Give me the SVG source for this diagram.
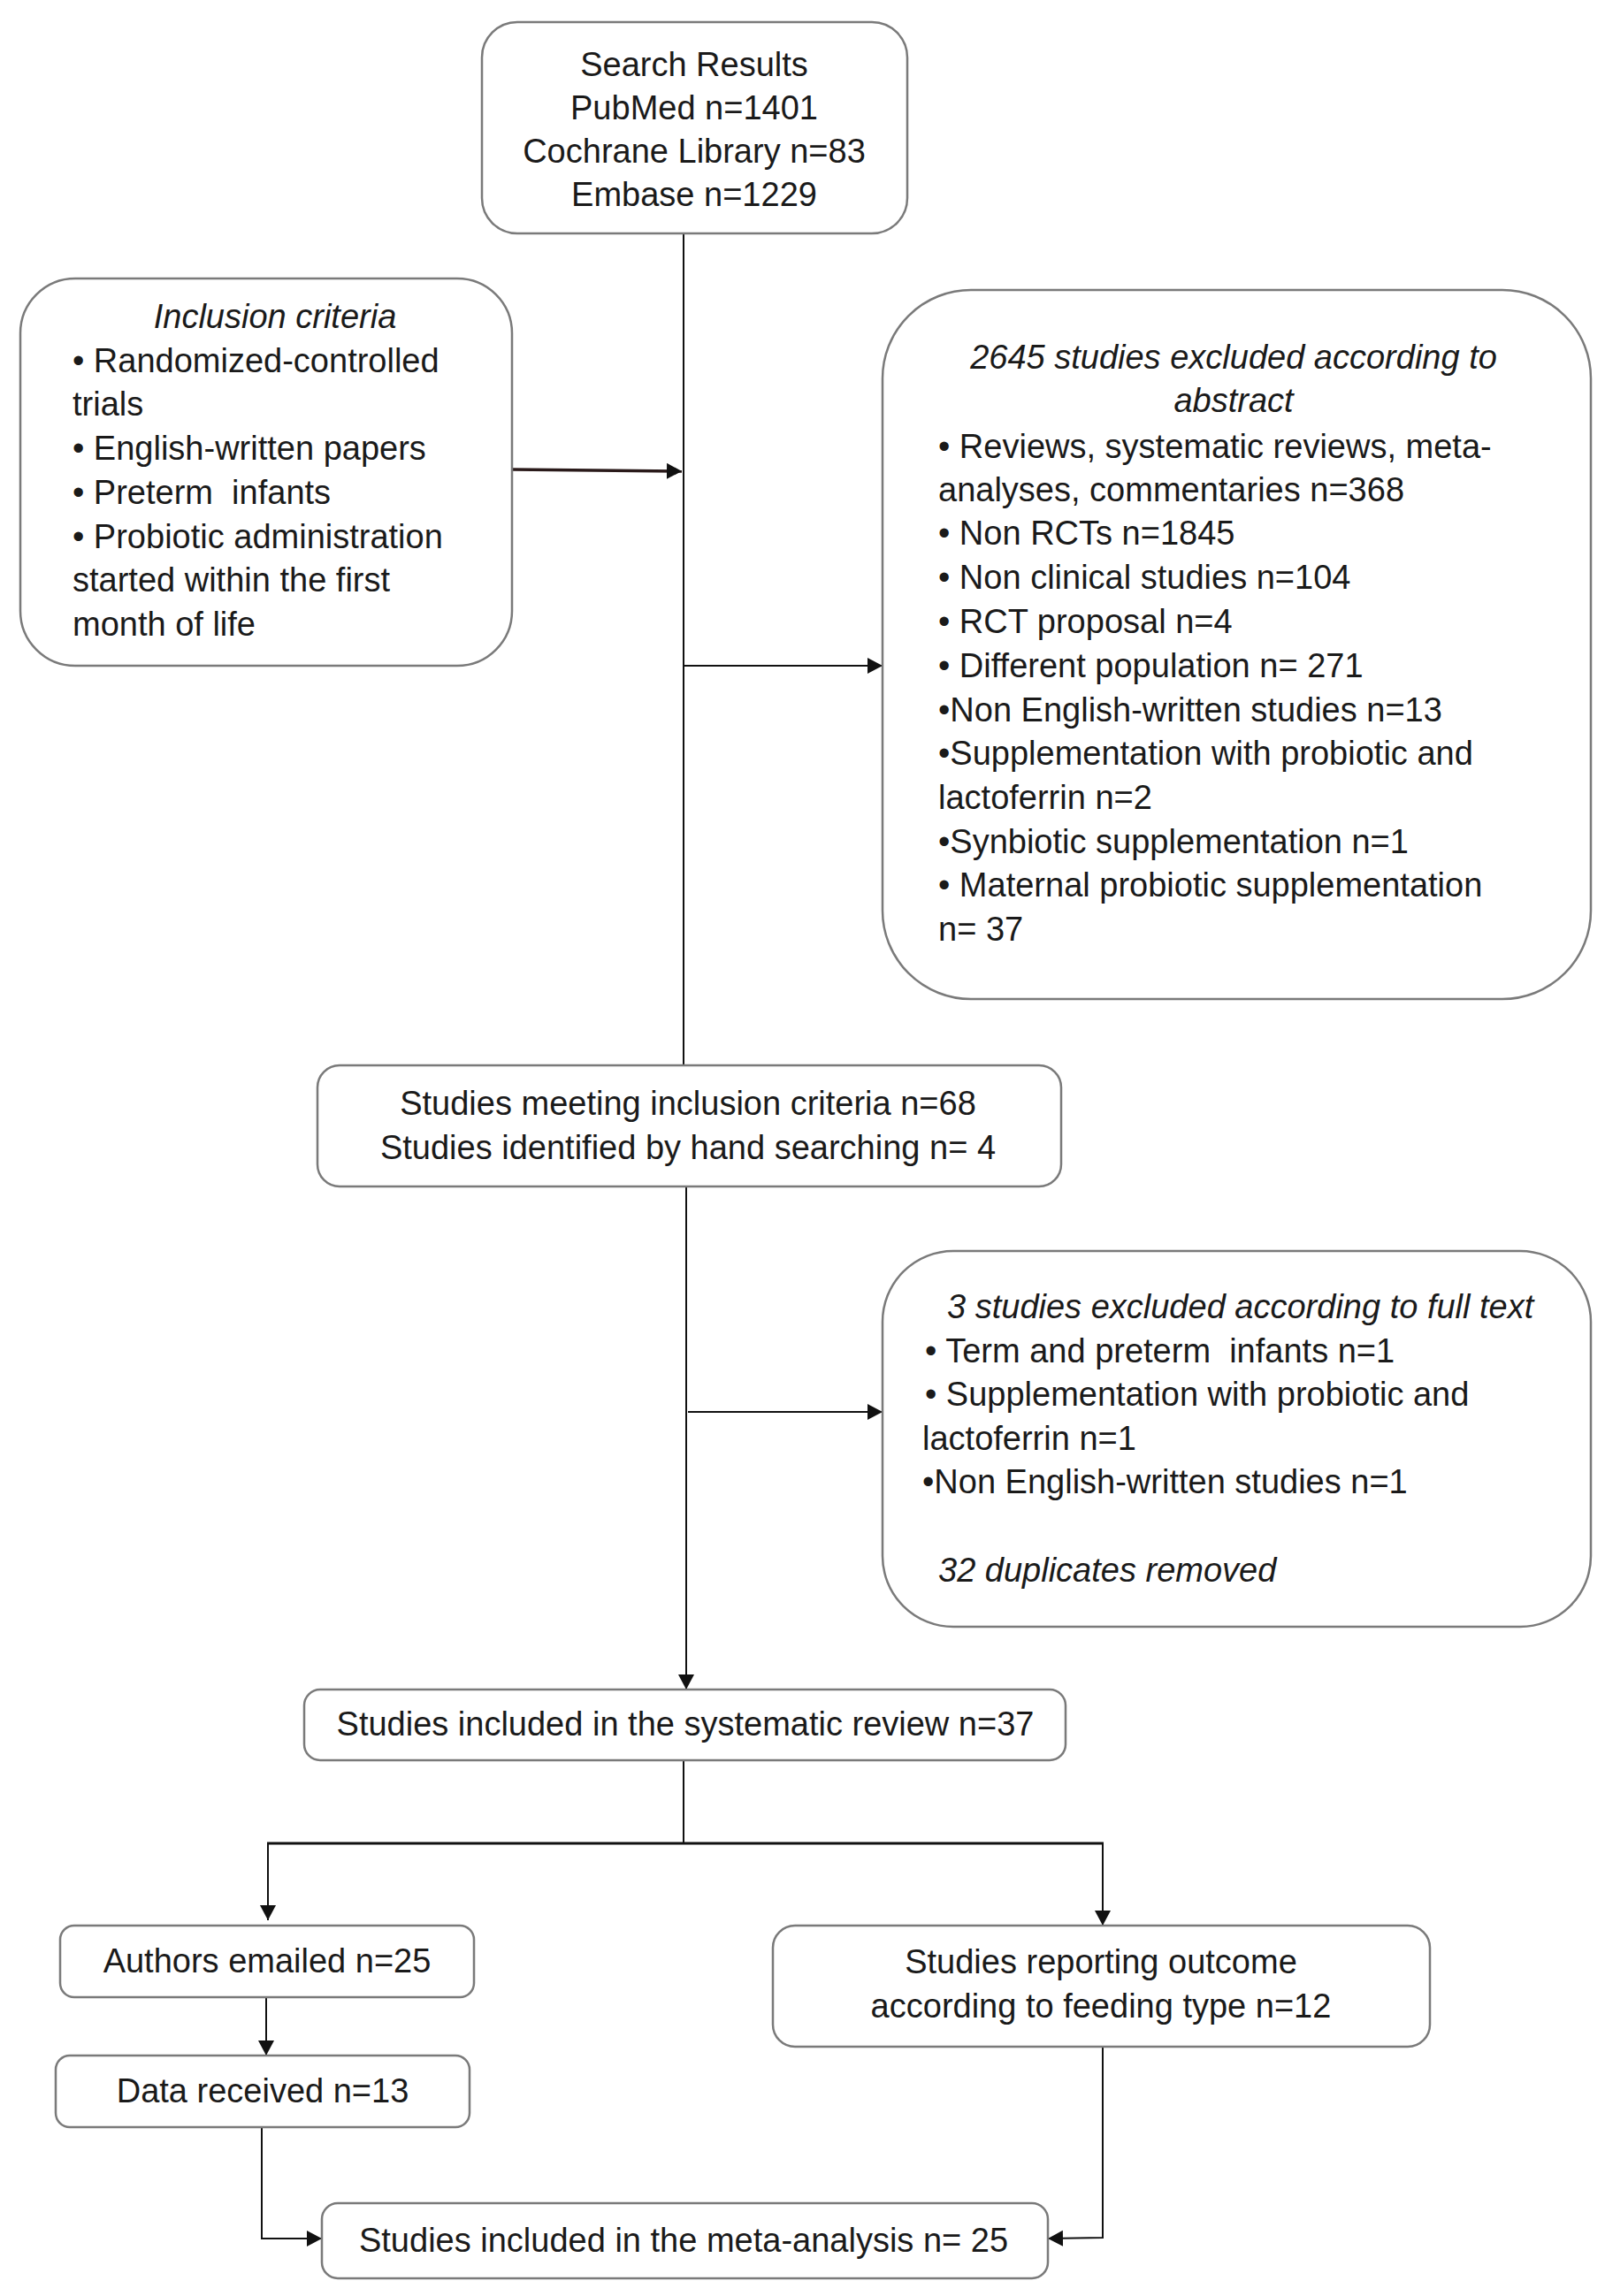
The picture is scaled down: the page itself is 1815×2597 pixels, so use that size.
<svg xmlns="http://www.w3.org/2000/svg" width="1815" height="2597" viewBox="0 0 1815 2597">
<style>
.box{fill:#fff;stroke:#7a7a7a;stroke-width:2.5}
.t{font-family:"Liberation Sans",Arial,sans-serif;font-size:38px;fill:#1a1a1a}
.c{text-anchor:middle}
.i{font-style:italic}
.ln{fill:none;stroke:#111;stroke-width:2}
.arr{marker-end:url(#ah)}
</style>
<defs>
<marker id="ah" markerUnits="userSpaceOnUse" markerWidth="20" markerHeight="20" refX="17" refY="9" orient="auto">
<path d="M0,0 L17,9 L0,18 Z" fill="#111"/>
</marker>
</defs>
<rect width="1815" height="2597" fill="#fff"/>
<g id="connectors">
<line class="ln arr" x1="773" y1="264" x2="773" y2="1222"/>
<line class="ln arr" x1="579" y1="531" x2="771" y2="533" style="stroke-width:3.5;stroke:#2a1a1a"/>
<line class="ln arr" x1="773" y1="753" x2="998" y2="753"/>
<line class="ln arr" x1="776" y1="1342" x2="776" y2="1911"/>
<line class="ln arr" x1="778" y1="1597" x2="998" y2="1597"/>
<line class="ln" x1="773" y1="1991" x2="773" y2="2085"/>
<line class="ln" x1="302" y1="2085" x2="1248" y2="2085" style="stroke-width:3"/>
<line class="ln arr" x1="303" y1="2085" x2="303" y2="2172"/>
<line class="ln arr" x1="1247" y1="2085" x2="1247" y2="2178"/>
<line class="ln arr" x1="301" y1="2259" x2="301" y2="2325"/>
<polyline class="ln arr" points="296,2406 296,2532 364,2532"/>
<polyline class="ln arr" points="1247,2315 1247,2531 1185,2532"/>
</g>
<g id="search">
<rect class="box" x="545" y="25" width="481" height="239" rx="40"/>
<text class="t c" x="785" y="86">Search Results</text>
<text class="t c" x="785" y="135">PubMed n=1401</text>
<text class="t c" x="785" y="184">Cochrane Library n=83</text>
<text class="t c" x="785" y="233">Embase n=1229</text>
</g>
<g id="inclusion">
<rect class="box" x="23" y="315" width="556" height="438" rx="62"/>
<text class="t c i" x="311" y="371">Inclusion criteria</text>
<text class="t" x="82" y="421">• Randomized-controlled</text>
<text class="t" x="82" y="470">trials</text>
<text class="t" x="82" y="520">• English-written papers</text>
<text class="t" x="82" y="570">• Preterm&#160; infants</text>
<text class="t" x="82" y="620">• Probiotic administration</text>
<text class="t" x="82" y="669">started within the first</text>
<text class="t" x="82" y="719">month of life</text>
</g>
<g id="excluded-abstract">
<rect class="box" x="998" y="328" width="801" height="802" rx="100"/>
<text class="t c i" x="1395" y="417">2645 studies excluded according to</text>
<text class="t c i" x="1395" y="466">abstract</text>
<text class="t" x="1061" y="518">• Reviews, systematic reviews, meta-</text>
<text class="t" x="1061" y="567">analyses, commentaries n=368</text>
<text class="t" x="1061" y="616">• Non RCTs n=1845</text>
<text class="t" x="1061" y="666">• Non clinical studies n=104</text>
<text class="t" x="1061" y="716">• RCT proposal n=4</text>
<text class="t" x="1061" y="766">• Different population n= 271</text>
<text class="t" x="1061" y="816">•Non English-written studies n=13</text>
<text class="t" x="1061" y="865">•Supplementation with probiotic and</text>
<text class="t" x="1061" y="915">lactoferrin n=2</text>
<text class="t" x="1061" y="965">•Synbiotic supplementation n=1</text>
<text class="t" x="1061" y="1014">• Maternal probiotic supplementation</text>
<text class="t" x="1061" y="1064">n= 37</text>
</g>
<g id="meeting">
<rect class="box" x="359" y="1205" width="841" height="137" rx="25"/>
<text class="t c" x="778" y="1261">Studies meeting inclusion criteria n=68</text>
<text class="t c" x="778" y="1311">Studies identified by hand searching n= 4</text>
</g>
<g id="excluded-fulltext">
<rect class="box" x="998" y="1415" width="801" height="425" rx="80"/>
<text class="t i" x="1071" y="1491">3 studies excluded according to full text</text>
<text class="t" x="1046" y="1541">• Term and preterm&#160; infants n=1</text>
<text class="t" x="1046" y="1590">• Supplementation with probiotic and</text>
<text class="t" x="1043" y="1640">lactoferrin n=1</text>
<text class="t" x="1043" y="1689">•Non English-written studies n=1</text>
<text class="t i" x="1061" y="1789">32 duplicates removed</text>
</g>
<g id="systematic">
<rect class="box" x="344" y="1911" width="861" height="80" rx="18"/>
<text class="t c" x="775" y="1963">Studies included in the systematic review n=37</text>
</g>
<g id="authors">
<rect class="box" x="68" y="2178" width="468" height="81" rx="16"/>
<text class="t c" x="302" y="2231">Authors emailed n=25</text>
</g>
<g id="data">
<rect class="box" x="63" y="2325" width="468" height="81" rx="16"/>
<text class="t c" x="297" y="2378">Data received n=13</text>
</g>
<g id="reporting">
<rect class="box" x="874" y="2178" width="743" height="137" rx="25"/>
<text class="t c" x="1245" y="2232">Studies reporting outcome</text>
<text class="t c" x="1245" y="2282">according to feeding type n=12</text>
</g>
<g id="meta">
<rect class="box" x="364" y="2492" width="821" height="85" rx="18"/>
<text class="t c" x="773" y="2547">Studies included in the meta-analysis n= 25</text>
</g>
</svg>
